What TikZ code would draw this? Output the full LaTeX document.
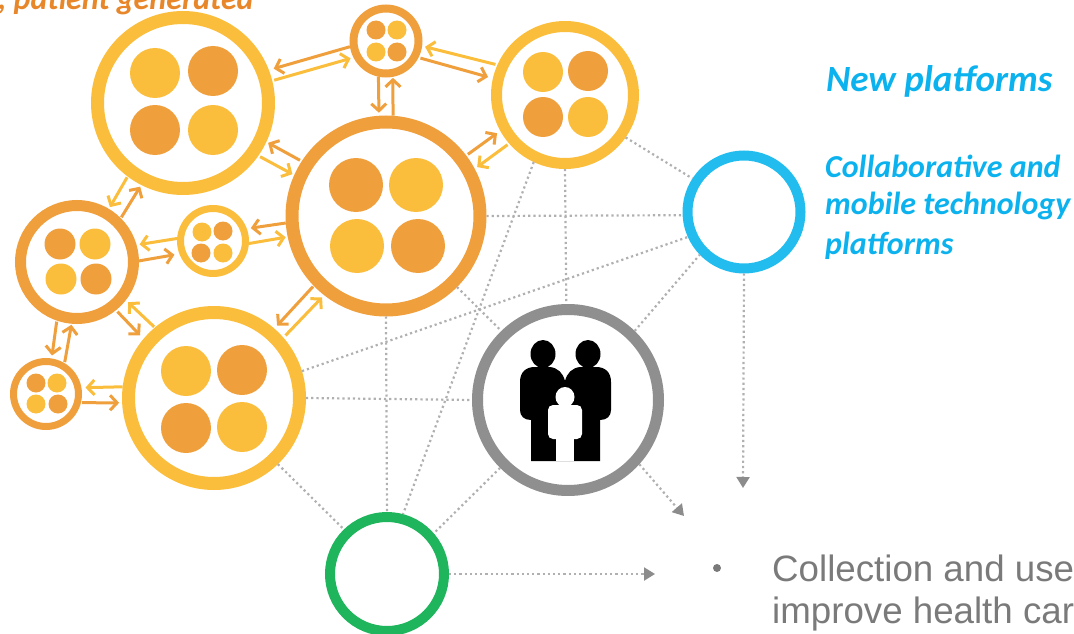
\documentclass[tikz,border=0pt]{standalone}
\usepackage{fontspec}
\newfontfamily\carlito{Carlito}
\newfontfamily\arialish{Liberation Sans}
\usetikzlibrary{arrows.meta}
\definecolor{ringY}{HTML}{FBBE3C}
\definecolor{ringO}{HTML}{F09F3D}
\definecolor{ringG}{HTML}{8F8F8F}
\definecolor{ringGreen}{HTML}{1FB55C}
\definecolor{ringBlue}{HTML}{22BDEE}
\definecolor{txtO}{HTML}{E8862A}
\definecolor{txtB}{HTML}{0CB2EE}
\definecolor{txtG}{HTML}{7A7A7A}
\definecolor{dotG}{HTML}{B0B0B0}
\definecolor{tipG}{HTML}{8C8C8C}
\tikzset{
  hub/.style={circle,draw=#1,fill=white,inner sep=0pt},
  flow/.style={line width=3pt,draw=#1,-{Straight Barb[length=7pt,width=15pt,line width=3pt]}},
  dotline/.style={draw=dotG,line width=2.2pt,dash pattern=on 2.2pt off 3pt},
  dotarrow/.style={dotline,-{Triangle[length=11pt,width=13pt,color=tipG,sep=0pt]}},
  headline/.style={inner sep=0pt,anchor=base west,font=\carlito\bfseries\itshape},
  bodytext/.style={inner sep=0pt,anchor=base west,text=txtG,font=\arialish\fontsize{36.7}{36.7}\selectfont}
}
\newcommand{\hub}[6]{\node[hub=#6,line width=#4pt,minimum size={2*#3pt-#4pt}] (#1) at (#2) {};}
\newcommand{\four}[7]{%
  \fill[#2] #4 circle (#1pt); \fill[#3] #5 circle (#1pt);
  \fill[#3] #6 circle (#1pt); \fill[#2] #7 circle (#1pt);}
\newcommand{\lnk}[7]{\draw[flow=#1,shorten <=#4pt,shorten >=#7pt] (#2.#3) -- (#5.#6);}
\begin{document}
\begin{tikzpicture}[x=1pt,y=-1pt]
\useasboundingbox (0,0) rectangle (1074,634);
% hubs
\hub{A}{183,103}{92}{13}{}{ringY}
\hub{B}{386,41}{36.5}{8}{}{ringO}
\hub{C}{565,95}{74}{11}{}{ringY}
\hub{D}{386,216}{100.5}{13}{}{ringO}
\hub{E}{77,262}{62}{11}{}{ringO}
\hub{F}{213,241}{36}{7}{}{ringY}
\hub{G}{46,394}{36}{7}{}{ringO}
\hub{H}{214,398}{92}{13}{}{ringY}
\hub{I}{387,574}{62}{10}{}{ringGreen}
\hub{J}{568,400}{96}{11}{}{ringG}
\hub{K}{744,212}{61.5}{10}{}{ringBlue}
% inner discs
\four{25}{ringY}{ringO}{(155,73)}{(213,71)}{(155,130)}{(213,130)}
\four{9.5}{ringO}{ringY}{(376,30)}{(397,30)}{(376,52)}{(397,52)}
\four{20}{ringY}{ringO}{(543,72)}{(588,71)}{(543,117)}{(588,117)}
\four{27}{ringO}{ringY}{(356,185)}{(416,185)}{(357,246)}{(418,246)}
\four{15.5}{ringO}{ringY}{(60,244)}{(95,244)}{(61,279)}{(96,279)}
\four{9.5}{ringY}{ringO}{(202,232)}{(223,231)}{(201,253)}{(223,253)}
\four{9.5}{ringO}{ringY}{(36,383)}{(57,383)}{(36,404)}{(58,404)}
\four{25}{ringY}{ringO}{(186,371)}{(242,370)}{(186,428)}{(242,427)}
% family
\fill[black] (531,461) -- (531,420) .. controls (524,420) and (520,416) .. (520,410)
  -- (520,382) .. controls (520,372) and (526,367) .. (535,367) -- (550,367)
  .. controls (558,368) and (563,373) .. (565,381) .. controls (567,373) and (572,368) .. (580,367)
  -- (596,367) .. controls (605,367) and (611,372) .. (611,382) -- (611,410)
  .. controls (611,416) and (607,420) .. (600,420) -- (600,461) -- cycle;
\fill[black] (543,354) ellipse (12.5pt and 14pt);
\fill[black] (588,354) ellipse (12.5pt and 14pt);
\fill[white] (565,397) ellipse (9.5pt and 10pt);
\fill[white,rounded corners=5pt] (548,405) rectangle (582,439);
\fill[white] (556,430) rectangle (574,461);
% orange and yellow flows
\lnk{ringO}{B}{189.7}{0}{A}{21.8}{5}
\lnk{ringY}{A}{14.2}{2}{B}{207}{3}
\lnk{ringY}{C}{156}{2}{B}{-8.7}{3}
\lnk{ringO}{B}{-27.9}{2}{C}{167.6}{5}
\lnk{ringO}{B}{-102.5}{0}{D}{94.4}{3}
\lnk{ringO}{D}{86}{0}{B}{-79}{1}
\lnk{ringO}{D}{37}{2}{C}{209.2}{4}
\lnk{ringY}{C}{221.3}{2}{D}{28}{3}
\lnk{ringO}{D}{147}{2}{A}{-25.2}{2}
\lnk{ringY}{A}{-35}{2}{D}{156.4}{2}
\lnk{ringY}{A}{233.7}{1}{E}{59.8}{2}
\lnk{ringO}{E}{45.6}{1}{A}{243.4}{2}
\lnk{ringY}{F}{176.8}{0}{E}{16}{3}
\lnk{ringO}{E}{1}{0}{F}{201.5}{5}
\lnk{ringO}{D}{184.6}{0}{F}{20}{4}
\lnk{ringY}{F}{-4.8}{0}{D}{192.4}{2}
\lnk{ringO}{E}{251.6}{1}{G}{81}{3}
\lnk{ringO}{G}{59.3}{1}{E}{265.5}{1}
\lnk{ringO}{E}{-51.3}{2}{H}{140.4}{5}
\lnk{ringY}{H}{130.7}{1}{E}{-38}{3}
\lnk{ringY}{H}{173}{0}{G}{10}{4}
\lnk{ringO}{G}{-14}{1}{H}{183.6}{3}
\lnk{ringO}{D}{224.2}{1}{H}{49.2}{4}
\lnk{ringY}{H}{41.6}{3}{D}{232}{3}
% dotted links
\draw[dotline] (D.0) -- (K.183);
\draw[dotline] (H.17.7) -- (K.204.8);
\draw[dotline] (D.270) -- (I.90);
\draw[dotline] (C.245.7) -- (I.75.5);
\draw[dotline] (C.-90) -- (J.91);
\draw[dotline] (C.-35.4) -- (K.147.8);
\draw[dotline] (D.-45) -- (J.134);
\draw[dotline] (J.46.2) -- (K.224.3);
\draw[dotline] (H.-0.6) -- (J.180.6);
\draw[dotline] (H.-46.3) -- (I.134.4);
\draw[dotline] (J.225.8) -- (I.41.2);
% outgoing arrows
\coordinate (outI) at (655,574);
\coordinate (outK) at (743,488);
\coordinate (outJ) at (684,516);
\draw[dotarrow] (I.0) -- (outI);
\draw[dotarrow] (K.-90) -- (outK);
\draw[dotarrow] (J.-42) -- (outJ);
% texts
\node[headline,text=txtO,font=\carlito\bfseries\itshape\fontsize{32}{32}\selectfont] (t1) at (-2,9.5) {, patient generated};
\node[headline,text=txtB,font=\carlito\bfseries\itshape\fontsize{37}{37}\selectfont] (t2) at (826,92) {New platforms};
\node[headline,text=txtB,font=\carlito\bfseries\itshape\fontsize{32}{32}\selectfont] (t3) at (825,177) {Collaborative and};
\node[headline,text=txtB,font=\carlito\bfseries\itshape\fontsize{32}{32}\selectfont] (t4) at (825,214) {mobile technology};
\node[headline,text=txtB,font=\carlito\bfseries\itshape\fontsize{32}{32}\selectfont] (t5) at (825,254) {platforms};
\fill[txtG] (717,568) circle (4pt);
\node[bodytext] (t6) at (772,581) {Collection and use};
\node[bodytext] (t7) at (772,623) {improve health car};
\end{tikzpicture}
\end{document}
